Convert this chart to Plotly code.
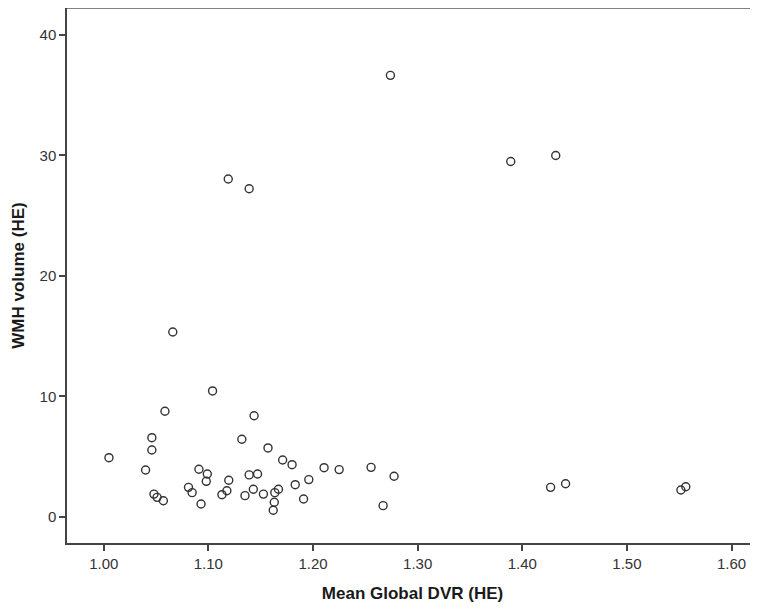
import plotly.graph_objects as go

# Data
mean_global_dvr = [
    1.005, 1.040, 1.046, 1.046, 1.0585, 1.066, 1.048, 1.051, 1.057,
    1.081, 1.0845, 1.091, 1.099, 1.098, 1.093, 1.104, 1.1195, 1.1177,
    1.113, 1.132, 1.139, 1.147, 1.143, 1.1437, 1.135, 1.1526, 1.157,
    1.1635, 1.167, 1.163, 1.162, 1.171, 1.180, 1.183, 1.191, 1.196,
    1.2106, 1.225, 1.2555, 1.2775, 1.267, 1.119, 1.139, 1.274,
    1.389, 1.432, 1.4271, 1.4414, 1.5516, 1.5563,
]
wmh_volume = [
    4.92, 3.90, 6.58, 5.56, 8.77, 15.35, 1.90, 1.63, 1.35,
    2.46, 2.02, 3.96, 3.57, 2.96, 1.08, 10.46, 3.05, 2.18,
    1.85, 6.45, 3.49, 3.57, 2.30, 8.40, 1.77, 1.90, 5.73,
    2.02, 2.30, 1.22, 0.56, 4.73, 4.34, 2.68, 1.49, 3.10,
    4.09, 3.93, 4.12, 3.38, 0.94, 28.05, 27.24, 36.65,
    29.50, 30.00, 2.46, 2.76, 2.24, 2.51,
]

x_tick_vals = [1.00, 1.10, 1.20, 1.30, 1.40, 1.50, 1.60]
x_tick_text = ["1.00", "1.10", "1.20", "1.30", "1.40", "1.50", "1.60"]
y_tick_vals = [0, 10, 20, 30, 40]
y_tick_text = ["0", "10", "20", "30", "40"]

x_title = "Mean Global DVR (HE)"
y_title = "WMH volume (HE)"

fig = go.Figure()
fig.add_trace(go.Scatter(
    x=mean_global_dvr,
    y=wmh_volume,
    mode="markers",
    marker=dict(symbol="circle-open", size=8, color="#333333",
                line=dict(width=1.4, color="#333333")),
    showlegend=False,
    hoverinfo="x+y",
))

tick_font = dict(family="Liberation Sans, Arial, sans-serif", size=15, color="#333333")
title_font = dict(family="Liberation Sans, Arial, sans-serif", size=17, color="#1a1a1a")

# The page body adds an 8px offset, so the figure is sized to fit the window.
fig.update_layout(
    width=750,
    height=602,
    margin=dict(l=59, r=0, t=0, b=67),
    paper_bgcolor="white",
    plot_bgcolor="white",
    xaxis=dict(
        range=[0.9649, 1.6253],
        tickvals=x_tick_vals,
        ticktext=x_tick_text,
        ticks="outside",
        ticklen=6,
        tickwidth=1.5,
        tickcolor="#444444",
        showline=True,
        linecolor="#444444",
        linewidth=1.5,
        showgrid=False,
        zeroline=False,
        automargin=False,
        tickfont=tick_font,
        title=dict(text="<b>" + x_title + "</b>", font=title_font, standoff=16),
    ),
    yaxis=dict(
        range=[-2.16, 42.24],
        tickvals=y_tick_vals,
        ticktext=y_tick_text,
        ticks="outside",
        ticklen=6,
        tickwidth=1.5,
        tickcolor="#444444",
        showline=True,
        linecolor="#444444",
        linewidth=1.5,
        showgrid=False,
        zeroline=False,
        automargin=False,
        tickfont=tick_font,
        title=dict(text="<b>" + y_title + "</b>", font=title_font, standoff=11),
    ),
    shapes=[dict(type="line", xref="paper", yref="paper", x0=0, x1=1, y0=1, y1=1,
                 line=dict(color="#808080", width=2))],
)

fig.write_html("out.html")
